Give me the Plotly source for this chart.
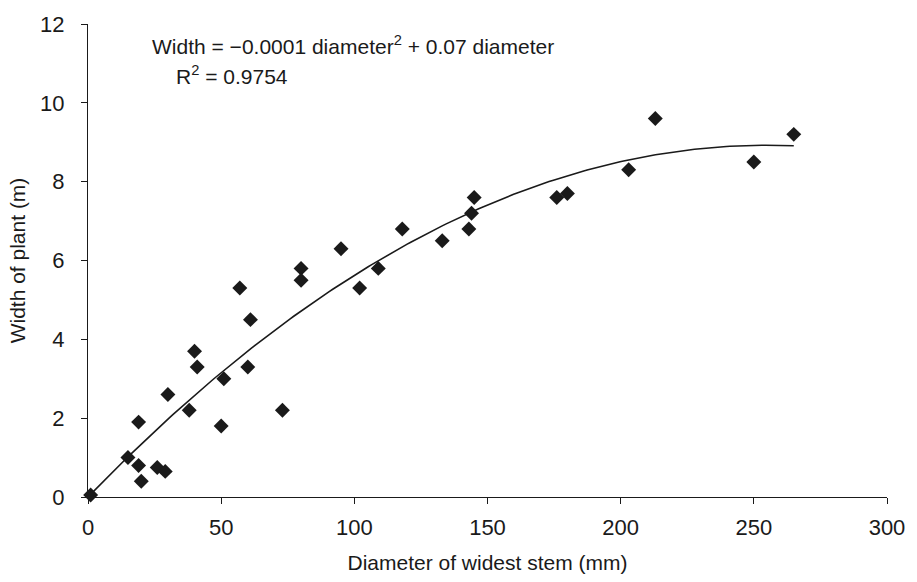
import numpy as np
import plotly.graph_objects as go

# Stem diameter (mm) and plant width (m)
diameter = [1, 15, 19, 19, 20, 26, 29, 30, 38, 40, 41, 51, 50, 60, 73, 61, 57,
            80, 80, 95, 102, 109, 118, 133, 143, 144, 145, 176, 180, 203, 213, 250, 265]
width = [0.05, 1.0, 1.9, 0.8, 0.4, 0.75, 0.65, 2.6, 2.2, 3.7, 3.3, 3.0, 1.8, 3.3, 2.2, 4.5, 5.3,
         5.8, 5.5, 6.3, 5.3, 5.8, 6.8, 6.5, 6.8, 7.2, 7.6, 7.6, 7.7, 8.3, 9.6, 8.5, 9.2]

x_ticks = [0, 50, 100, 150, 200, 250, 300]
y_ticks = [0, 2, 4, 6, 8, 10, 12]

# Quadratic trend through the origin: width = a*d^2 + b*d
xd = np.array(diameter, dtype=float)
yd = np.array(width, dtype=float)
A = np.column_stack([xd ** 2, xd])
(a, b), *_ = np.linalg.lstsq(A, yd, rcond=None)
xs = np.linspace(0, max(diameter), 200)
ys = a * xs ** 2 + b * xs

FONT = "Liberation Sans, Arial, sans-serif"
INK = "#1a1a1a"

fig = go.Figure()
fig.add_trace(go.Scatter(x=xs, y=ys, mode="lines",
                         line=dict(color=INK, width=1.6),
                         hoverinfo="skip", showlegend=False))
fig.add_trace(go.Scatter(x=diameter, y=width, mode="markers",
                         marker=dict(symbol="diamond", size=11.5, color=INK,
                                     line=dict(width=0)),
                         showlegend=False, cliponaxis=False))

fig.add_annotation(x=0.077, y=0.955, xref="paper", yref="paper",
                   xanchor="left", yanchor="middle", showarrow=False,
                   text="Width = \u22120.0001 diameter<sup>2</sup> + 0.07 diameter",
                   font=dict(family=FONT, size=21, color=INK))
fig.add_annotation(x=0.108, y=0.893, xref="paper", yref="paper",
                   xanchor="left", yanchor="middle", showarrow=False,
                   text="R<sup>2</sup> = 0.9754",
                   font=dict(family=FONT, size=21, color=INK))

axis_common = dict(showgrid=False, zeroline=False, showline=True,
                   linecolor=INK, linewidth=1.2, ticks="outside",
                   ticklen=6, tickwidth=1.2, tickcolor=INK,
                   tickfont=dict(family=FONT, size=22, color=INK),
                   title_font=dict(family=FONT, size=21, color=INK))

fig.update_layout(
    width=917, height=582,
    margin=dict(l=88, r=19, t=19, b=80),
    paper_bgcolor="white", plot_bgcolor="white",
    xaxis=dict(range=[0, 300], tickvals=x_ticks, ticktext=[str(v) for v in x_ticks],
               title=dict(text="Diameter of widest stem (mm)", standoff=16),
               ticklabelstandoff=4, **axis_common),
    yaxis=dict(range=[0, 12], tickvals=y_ticks, ticktext=[str(v) for v in y_ticks],
               title=dict(text="Width of plant (m)", standoff=8),
               ticklabelstandoff=12, **axis_common),
)

fig.write_html("out.html")
